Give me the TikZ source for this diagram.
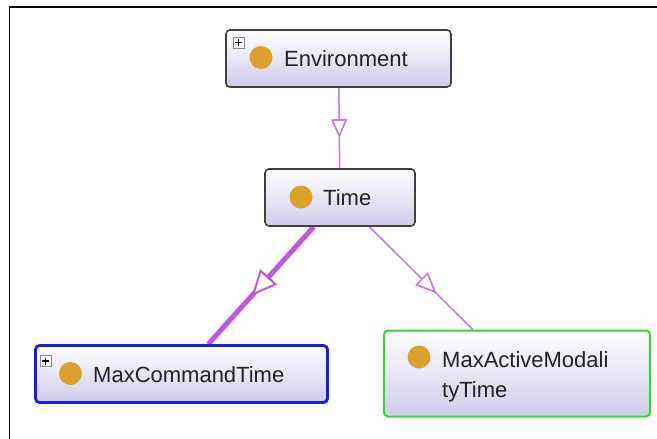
\documentclass[tikz,border=0pt]{standalone}
\usepackage{fontspec}
\setmainfont{Liberation Sans}
\usetikzlibrary{calc}
\pgfdeclarelayer{background}
\pgfsetlayers{background,main}
\definecolor{edgecol}{RGB}{198,118,230}
\definecolor{edgethick}{RGB}{190,88,222}
\definecolor{boxbot}{RGB}{208,204,234}
\definecolor{dotcol}{RGB}{217,162,42}
\definecolor{bluebd}{RGB}{25,25,240}
\definecolor{greenbd}{RGB}{50,215,50}
\definecolor{txtcol}{RGB}{35,35,35}
\tikzset{
  x=1pt, y=-1pt,
  cls/.style={rectangle, rounded corners=4pt, draw=black!75, line width=1.6pt,
    top color=white, bottom color=boxbot, inner sep=0pt},
  dot/.style={circle, fill=dotcol, draw=none, minimum size=23pt, inner sep=0pt},
  lbl/.style={anchor=base west, inner sep=0pt, text=txtcol,
    font=\fontsize{22}{26}\selectfont},
  plusbox/.style={rectangle, minimum size=11pt, inner sep=0pt, draw=black!45,
    fill=white, line width=0.6pt,
    path picture={
      \draw[line width=1.3pt,black]
        ([xshift=-3.5pt]path picture bounding box.center) --
        ([xshift=3.5pt]path picture bounding box.center);
      \draw[line width=1.3pt,black]
        ([yshift=-3.5pt]path picture bounding box.center) --
        ([yshift=3.5pt]path picture bounding box.center);}},
  edge/.style={draw=edgecol, line width=1.5pt},
  thickedge/.style={draw=edgethick, line width=5pt},
  tri/.style={draw=edgecol, fill=white, line width=1.6pt, line join=miter},
  trithick/.style={draw=edgethick, fill=white, line width=2pt, line join=miter},
}
% #1 source node, #2 target node, #3 style, #4 half length, #5 half width
\newcommand{\midtri}[5]{%
  \coordinate (mtm) at ($(#1.center)!0.5!(#2.center)$);
  \coordinate (mtt) at ($(mtm)!#4!(#2.center)$);
  \coordinate (mtb) at ($(mtm)!-#4!(#2.center)$);
  \draw[#3] (mtt) -- ($(mtb)!#5!90:(mtm)$) -- ($(mtb)!#5!-90:(mtm)$) -- cycle;}
\begin{document}
\begin{tikzpicture}
\useasboundingbox (0,0) rectangle (657,439);
\begin{pgfonlayer}{background}
\fill[white] (0,0) rectangle (657,439);
\end{pgfonlayer}
% frame
\coordinate (fl) at (9.5,439);
\coordinate (ftl) at (9.5,7);
\coordinate (fr) at (657,7);
\draw[line width=1.8pt, black] (fl) -- (ftl) -- (fr);

% class boxes
\node[cls, minimum width=225pt, minimum height=57pt] (env) at (338.5,58.5) {};
\node[cls, minimum width=150pt, minimum height=57pt] (time) at (340,197.5) {};
\node[cls, draw=bluebd, line width=2.8pt, minimum width=292pt, minimum height=57pt] (mct) at (181.5,374) {};
\node[cls, draw=greenbd, line width=2pt, minimum width=266pt, minimum height=86pt] (mamt) at (517,373.5) {};

% plus boxes
\node[plusbox] (envplus) at (238.5,42.5) {};
\node[plusbox] (mctplus) at (45.5,361) {};

% dots
\node[dot] (envdot) at (261,57.5) {};
\node[dot] (timedot) at (301,197) {};
\node[dot] (mctdot) at (70.5,373.5) {};
\node[dot] (mamtdot) at (419,357) {};

% labels
\node[lbl] (envtxt) at (284,66.5) {Environment};
\node[lbl] (timetxt) at (323,205) {Time};
\node[lbl] (mcttxt) at (93,382) {MaxCommandTime};
\node[lbl] (mamttxt1) at (442,367) {MaxActiveModali};
\node[lbl] (mamttxt2) at (442,397) {tyTime};

% connectors
\begin{pgfonlayer}{background}
\draw[edge] (env) -- (time);
\draw[thickedge] (time) -- (mct);
\draw[edge] (time) -- (mamt);
\end{pgfonlayer}

% open triangles at midpoints
\midtri{env}{time}{tri}{8pt}{7pt}
\midtri{time}{mct}{trithick}{11pt}{10pt}
\midtri{time}{mamt}{tri}{9pt}{8pt}
\end{tikzpicture}
\end{document}
